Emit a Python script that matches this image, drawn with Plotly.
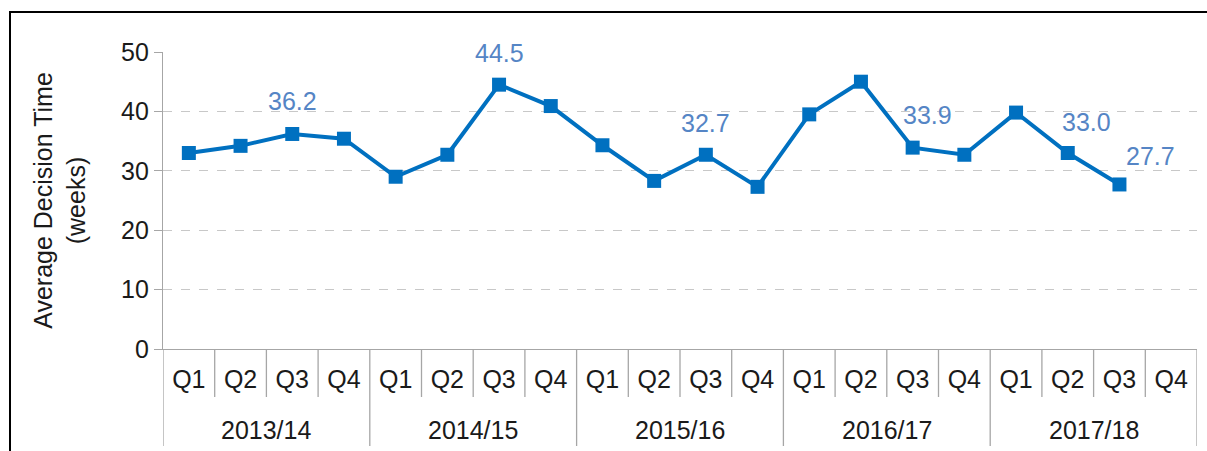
import plotly.graph_objects as go

years = ["2013/14", "2014/15", "2015/16", "2016/17", "2017/18"]
quarters = ["Q1", "Q2", "Q3", "Q4"]
decision_time = [33.0, 34.2, 36.2, 35.4,
                 29.0, 32.7, 44.5, 40.9,
                 34.3, 28.3, 32.7, 27.3,
                 39.5, 45.0, 33.9, 32.7,
                 39.8, 33.0, 27.7, None]
labelled = {2: "36.2", 6: "44.5", 10: "32.7", 14: "33.9", 17: "33.0", 18: "27.7"}

label_shift = {2: (0, 33), 6: (0, 32), 10: (0, 32), 14: (15, 33), 17: (19, 31), 18: (31, 28)}

FONT = "Liberation Sans, Arial"
TXT = "#1a1a1a"
n = len(years) * len(quarters)
xs = list(range(n))
ticktext = [q for _ in years for q in quarters]

fig = go.Figure()
fig.add_trace(go.Scatter(
    x=xs, y=decision_time, mode="lines+markers",
    line=dict(color="#0070C0", width=4),
    marker=dict(symbol="square", size=14, color="#0070C0"),
    connectgaps=False, showlegend=False, hoverinfo="y"))

for i, txt in labelled.items():
    dx, dy = label_shift[i]
    fig.add_annotation(x=xs[i], y=decision_time[i], text=txt, showarrow=False,
                       xshift=dx, yshift=dy,
                       font=dict(family=FONT, size=25, color="#5585C5"))

# plot area target: x 163..1197, y 52..349
pw = 1034.0
ph = 297.0
grey = "#A6A6A6"
shapes = []
for k in range(n + 1):
    long = (k % 4 == 0)
    shapes.append(dict(type="line", xref="x", yref="paper",
                       x0=k - 0.5, x1=k - 0.5, y0=0,
                       y1=-(97 / ph) if long else -(48 / ph),
                       line=dict(color=grey, width=1.3)))
for j, yr in enumerate(years):
    fig.add_annotation(x=j * 4 + 1.5, y=-(81 / ph), xref="x", yref="paper",
                       text=yr, showarrow=False, yanchor="middle",
                       font=dict(family=FONT, size=25, color=TXT))

lx = (10 - 163) / pw
rx = (1230 - 163) / pw
ty = (349 - 12) / ph
by = (349 - 470) / ph
shapes.append(dict(type="path", xref="paper", yref="paper",
                   path=f"M {lx},{by} L {lx},{ty} L {rx},{ty}",
                   line=dict(color="black", width=2)))

fig.update_layout(
    width=1207, height=451,
    margin=dict(l=163, r=10, t=52, b=102),
    paper_bgcolor="white", plot_bgcolor="white",
    font=dict(family=FONT, color=TXT),
    shapes=shapes,
    xaxis=dict(range=[-0.5, n - 0.5], tickmode="array", tickvals=xs, ticktext=ticktext,
               showgrid=False, zeroline=False, showline=True, linecolor=grey, linewidth=1.3,
               ticks="", ticklabelstandoff=8,
               tickfont=dict(size=25, color=TXT)),
    yaxis=dict(range=[0, 50], dtick=10, showgrid=True, gridcolor="#C8C8C8", griddash="dash",
               gridwidth=1, zeroline=False, showline=True, linecolor=grey, linewidth=1.3,
               ticks="outside", ticklen=8, tickcolor=grey,
               tickfont=dict(size=25, color=TXT),
               title=dict(text="Average Decision Time<br>(weeks)", standoff=28,
                          font=dict(size=25, color=TXT))),
)

fig.write_html("out.html", config={"displayModeBar": False},
               post_script="document.body.style.margin='0';document.body.style.overflow='hidden';")
